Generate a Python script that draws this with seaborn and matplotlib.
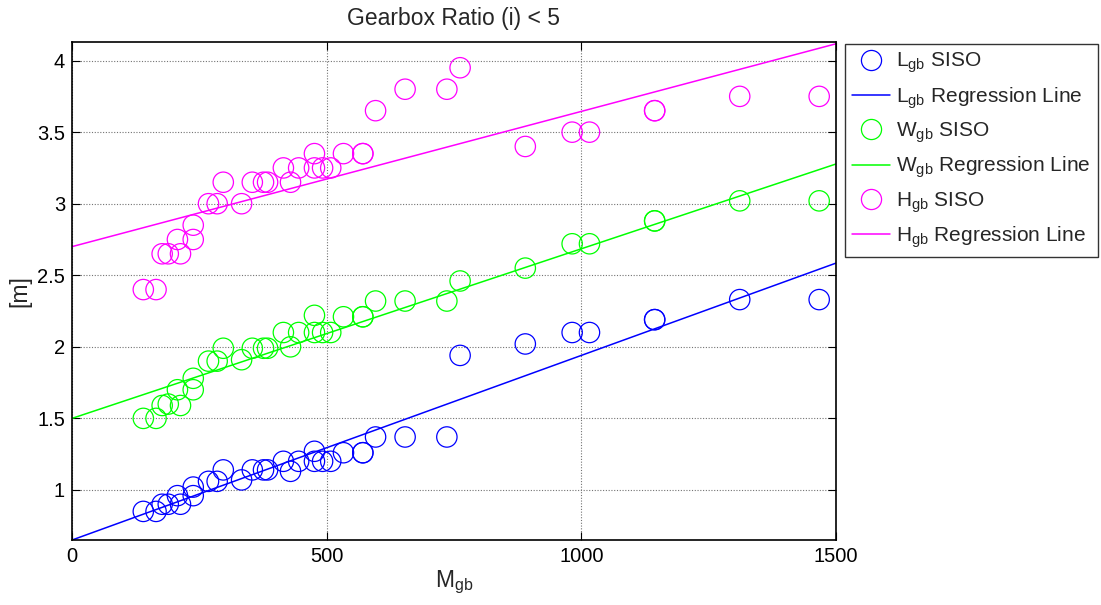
import numpy as np
import pandas as pd
import matplotlib
matplotlib.use("Agg")
import matplotlib.pyplot as plt
import seaborn as sns
from matplotlib.lines import Line2D

# ---- data ----
mass_gb = [140, 165, 177, 189, 213, 207, 238, 238, 268, 285, 333, 297, 354, 376,
           384, 429, 415, 445, 476, 476, 492, 508, 533, 571, 571, 596, 654, 736,
           762, 890, 982, 1016, 1144, 1144, 1311, 1467]
length_gb = [0.85, 0.85, 0.90, 0.90, 0.90, 0.96, 0.96, 1.02, 1.06, 1.06, 1.07, 1.14,
             1.14, 1.14, 1.14, 1.13, 1.20, 1.20, 1.27, 1.20, 1.20, 1.20, 1.26, 1.26,
             1.26, 1.37, 1.37, 1.37, 1.94, 2.02, 2.10, 2.10, 2.19, 2.19, 2.33, 2.33]
width_gb = [1.50, 1.50, 1.59, 1.60, 1.59, 1.70, 1.70, 1.78, 1.90, 1.90, 1.91, 1.99,
            1.99, 1.99, 1.99, 2.00, 2.10, 2.10, 2.22, 2.10, 2.10, 2.10, 2.21, 2.21,
            2.21, 2.32, 2.32, 2.32, 2.46, 2.55, 2.72, 2.72, 2.88, 2.88, 3.02, 3.02]
height_gb = [2.40, 2.40, 2.65, 2.65, 2.65, 2.75, 2.75, 2.85, 3.00, 3.00, 3.00, 3.15,
             3.15, 3.15, 3.15, 3.15, 3.25, 3.25, 3.35, 3.25, 3.25, 3.25, 3.35, 3.35,
             3.35, 3.65, 3.80, 3.80, 3.95, 3.40, 3.50, 3.50, 3.65, 3.65, 3.75, 3.75]

series_names = ["L", "W", "H"]
reg_intercept = [0.65, 1.50, 2.70]
reg_slope = [0.00129, 0.001185, 0.000945]
series_colors = ["#0000ff", "#00ff00", "#ff00ff"]

x_ticks = [0, 500, 1000, 1500]
y_ticks = [1, 1.5, 2, 2.5, 3, 3.5, 4]
x_limits = [0, 1500]
y_limits = [0.65, 4.13]
title_text = "Gearbox Ratio (i) < 5"

# ---- style ----
sns.set_theme(style="white")
plt.rcParams["font.family"] = ["Liberation Sans", "DejaVu Sans"]
plt.rcParams["mathtext.fontset"] = "custom"
plt.rcParams["mathtext.rm"] = "Liberation Sans"
plt.rcParams["mathtext.it"] = "Liberation Sans:italic"
plt.rcParams["mathtext.bf"] = "Liberation Sans:bold"

fig = plt.figure(figsize=(11.01, 6.05), dpi=100)
ax = fig.add_axes([0.0654, 0.1074, 0.6939, 0.8232])

values = {"L": length_gb, "W": width_gb, "H": height_gb}

handles = []
labels = []
for name, color, b0, b1 in zip(series_names, series_colors, reg_intercept, reg_slope):
    df = pd.DataFrame({"mass": mass_gb, "value": values[name]})
    sns.scatterplot(data=df, x="mass", y="value", ax=ax, marker="o", s=215,
                    facecolors="none", edgecolors=color, linewidths=0.9,
                    legend=False, zorder=3)
    line_x = np.array(x_limits, dtype=float)
    line_df = pd.DataFrame({"mass": line_x, "value": b0 + b1 * line_x})
    sns.lineplot(data=line_df, x="mass", y="value", ax=ax, color=color,
                 linewidth=1.1, legend=False, zorder=2)
    handles.append(Line2D([], [], marker="o", ls="", mfc="none", mec=color,
                          ms=14.5, mew=0.9))
    labels.append(name + r"$_{\mathrm{gb}}$ SISO")
    handles.append(Line2D([], [], color=color, lw=1.1))
    labels.append(name + r"$_{\mathrm{gb}}$ Regression Line")

ax.set_xlim(x_limits)
ax.set_ylim(y_limits)
ax.set_xticks(x_ticks)
ax.set_yticks(y_ticks)
ax.set_xticklabels([str(t) for t in x_ticks])
ax.set_yticklabels([("%g" % t) for t in y_ticks])
ax.grid(True, linestyle=(0, (1, 1.5)), color="0.45", linewidth=0.8)
ax.set_axisbelow(True)
ax.tick_params(direction="in", length=6, width=0.8, top=True, right=True,
               labelsize=14.5, colors="black", pad=5,
               bottom=True, left=True)
for sp in ax.spines.values():
    sp.set_color("black")
    sp.set_linewidth(1.2)

ax.set_title(title_text, fontsize=16.5, pad=12)
ax.set_xlabel(r"M$_{\mathrm{gb}}$", fontsize=16.5, labelpad=2)
ax.set_ylabel("[m]", fontsize=16.5, labelpad=4)

leg = fig.legend(handles, labels, loc="upper left", bbox_to_anchor=(0.7675, 0.928),
                 fontsize=15, frameon=True, fancybox=False, edgecolor="black",
                 handlelength=1.8, handletextpad=0.3, labelspacing=0.47,
                 borderpad=0.35, borderaxespad=0)
leg.get_frame().set_linewidth(1.0)

fig.savefig("out.png", dpi=100)
